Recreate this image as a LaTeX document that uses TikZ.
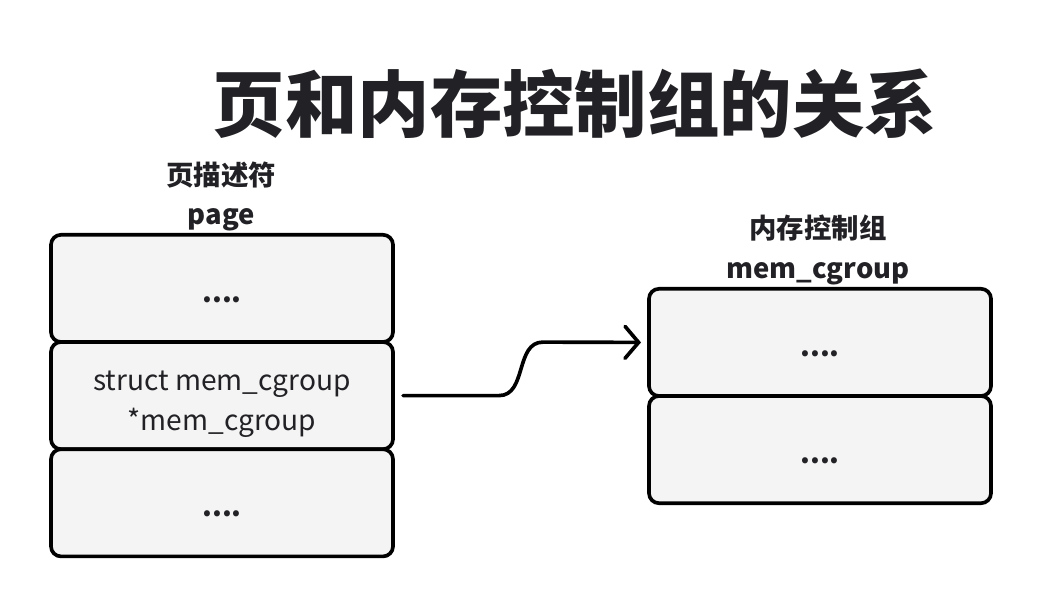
\documentclass[tikz,border=0pt]{standalone}
\usepackage{fontspec}
\setmainfont{Noto Sans CJK SC}
\usepackage{xcolor}
\usetikzlibrary{positioning,arrows.meta}
\definecolor{textcolor}{RGB}{34,34,38}
\definecolor{boxcolor}{RGB}{244,244,244}

\begin{document}
\begin{tikzpicture}[node distance=0cm, text=textcolor]
    % Define styles
    \tikzstyle{field} = [rectangle, draw=black, line width=2.6pt, fill=boxcolor, rounded corners=0.25cm, minimum width=8.55cm, minimum height=2.68cm, outer sep=0pt, font=\fontsize{20}{28.5}\selectfont]
    \tikzstyle{dots} = [font=\bfseries\fontsize{20}{28}\selectfont]
    \tikzstyle{label} = [font=\bfseries\fontsize{19.5}{24}\selectfont]
    \tikzstyle{arrow} = [line width=2.6pt, line cap=round, -{Straight Barb[length=0.34cm, width=0.8cm, line cap=round]}]

    \useasboundingbox (0,0) rectangle (26.05,-15.2);

    % Title
    \node [font=\bfseries\fontsize{51.5}{56}\selectfont] (title) at (14.37,-2.6) {页和内存控制组的关系};

    % Page descriptor
    \node [label] (pagecn) at (5.53,-4.38) {页描述符};
    \node [label] (pageen) at (5.53,-5.5) {page};
    \node [field, dots] (page1) at (5.55,-7.21) {\raisebox{-0.34cm}[0pt][0pt]{....}};
    \node [field, below=of page1] (ptr) {\raisebox{-0.35cm}[0pt][0pt]{\begin{tabular}{@{}c@{}}struct mem\_cgroup\\{}*mem\_cgroup\end{tabular}}};
    \node [field, dots, below=of ptr] (page3) {\raisebox{-0.34cm}[0pt][0pt]{....}};

    % Memory cgroup
    \node [label] (cgcn) at (20.45,-5.7) {内存控制组};
    \node [label] (cgen) at (20.45,-6.85) {mem\_cgroup};
    \node [field, dots] (cg1) at (20.5,-8.56) {\raisebox{-0.34cm}[0pt][0pt]{....}};
    \node [field, dots, below=of cg1] (cg2) {\raisebox{-0.34cm}[0pt][0pt]{....}};

    % Arrows
    \draw [arrow] ([xshift=0.25cm]ptr.east) -- ++(2.4,0) .. controls +(0.7,0) and +(-0.7,0) .. ++(1.1,1.3375) -- ([xshift=-0.2cm]cg1.west);
\end{tikzpicture}
\end{document}
